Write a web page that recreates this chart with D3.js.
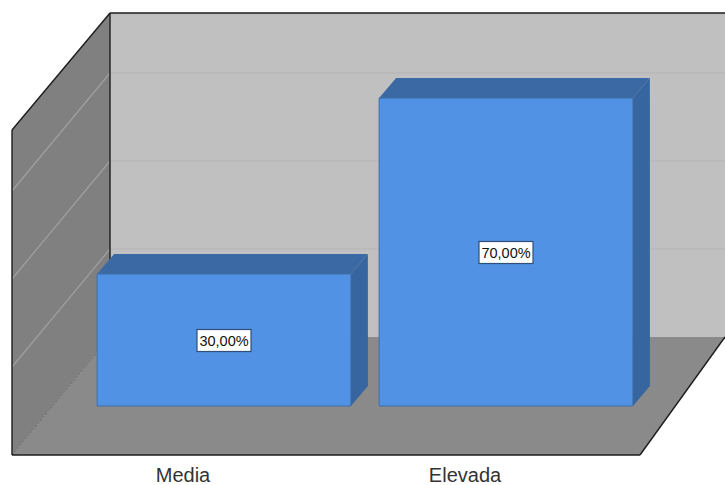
<!DOCTYPE html>
<html><head><meta charset="utf-8">
<style>html,body{margin:0;padding:0;background:#fff}svg{display:block}</style>
<script src="https://cdn.jsdelivr.net/npm/d3@7"></script></head>
<body><svg width="725" height="485"></svg>
<script>
const categories = ["Media", "Elevada"];
const percentages = [30, 70];
const gridTicks = [20, 40, 60];
const svg = d3.select("svg");
const x = d3.scaleBand().domain(categories).range([83, 647]).paddingInner(0.1).paddingOuter(0.05);
const y = d3.scaleLinear().domain([0, 100]).range([406, -34]);
const floorFront = 455, floorBack = 337, topBack = 13, leftFront = 12, leftBack = 110, rightBack = 725, rightFront = 640;
const toBack = v => y(v) - (y(0) - floorBack);
const toFront = v => toBack(v) + (floorFront - floorBack);
const poly = (pts, fill, stroke, w) => svg.append("polygon").attr("points", pts.map(p => p.join(",")).join(" ")).attr("fill", fill).attr("stroke", stroke || "none").attr("stroke-width", w || 0);

poly([[leftBack, topBack],[725, topBack],[725, floorBack],[leftBack, floorBack]], "#c0c0c0");
poly([[leftFront, 130],[leftBack, topBack],[leftBack, floorBack],[leftFront, floorFront]], "#808080");
poly([[leftFront, floorFront],[leftBack, floorBack],[rightBack, floorBack],[rightFront, floorFront]], "#8a8a8a");

gridTicks.forEach(t => {
  svg.append("line").attr("x1", leftBack).attr("x2", 725).attr("y1", toBack(t)).attr("y2", toBack(t)).attr("stroke", "#b4b4b4").attr("stroke-width", 1);
  svg.append("line").attr("x1", leftFront).attr("x2", leftBack).attr("y1", toFront(t)).attr("y2", toBack(t)).attr("stroke", "#a0a0a0").attr("stroke-width", 1.2);
});
svg.append("line").attr("x1", leftFront).attr("y1", floorFront).attr("x2", leftBack).attr("y2", floorBack).attr("stroke", "#6e6e6e").attr("stroke-width", 1).attr("stroke-dasharray", "3 1");

const line = (a, b, w) => svg.append("line").attr("x1", a[0]).attr("y1", a[1]).attr("x2", b[0]).attr("y2", b[1]).attr("stroke", "#1c1c1c").attr("stroke-width", w || 1.4);
line([leftBack, topBack],[725, topBack]);
line([leftBack, topBack],[leftBack, floorBack]);
line([leftFront, 130],[leftBack, topBack]);
line([leftFront, 130],[leftFront, floorFront]);
line([leftFront, floorFront],[rightFront, floorFront]);
line([rightFront, floorFront],[rightBack, floorBack]);

const dx = 17, dy = -20;
categories.forEach((c, i) => {
  const v = percentages[i], x0 = x(c), x1 = x0 + x.bandwidth(), yt = y(v), yb = y(0);
  poly([[x0, yt],[x0 + dx, yt + dy],[x1 + dx, yt + dy],[x1, yt]], "#3a69a3");
  poly([[x1, yt],[x1 + dx, yt + dy],[x1 + dx, yb + dy],[x1, yb]], "#36659f");
  poly([[x0, yt],[x1, yt],[x1, yb],[x0, yb]], "#5292e4", "#3f6fa8", 1);
  const cx = (x0 + x1) / 2, cy = (yt + yb) / 2;
  svg.append("rect").attr("x", cx - 27).attr("y", cy - 10.5).attr("width", 54).attr("height", 22).attr("fill", "#fff").attr("stroke", "#2f4f78").attr("stroke-width", 1.2);
  svg.append("text").attr("x", cx).attr("y", cy + 5.5).attr("text-anchor", "middle").attr("font-family", "Liberation Sans").attr("font-size", 14.5).attr("fill", "#111").text(d3.format(".2f")(v).replace(".", ",") + "%");
  svg.append("text").attr("x", cx - 41).attr("y", 482).attr("text-anchor", "middle").attr("font-family", "Liberation Sans").attr("font-size", 20).attr("fill", "#333").text(c);
});
</script></body></html>
